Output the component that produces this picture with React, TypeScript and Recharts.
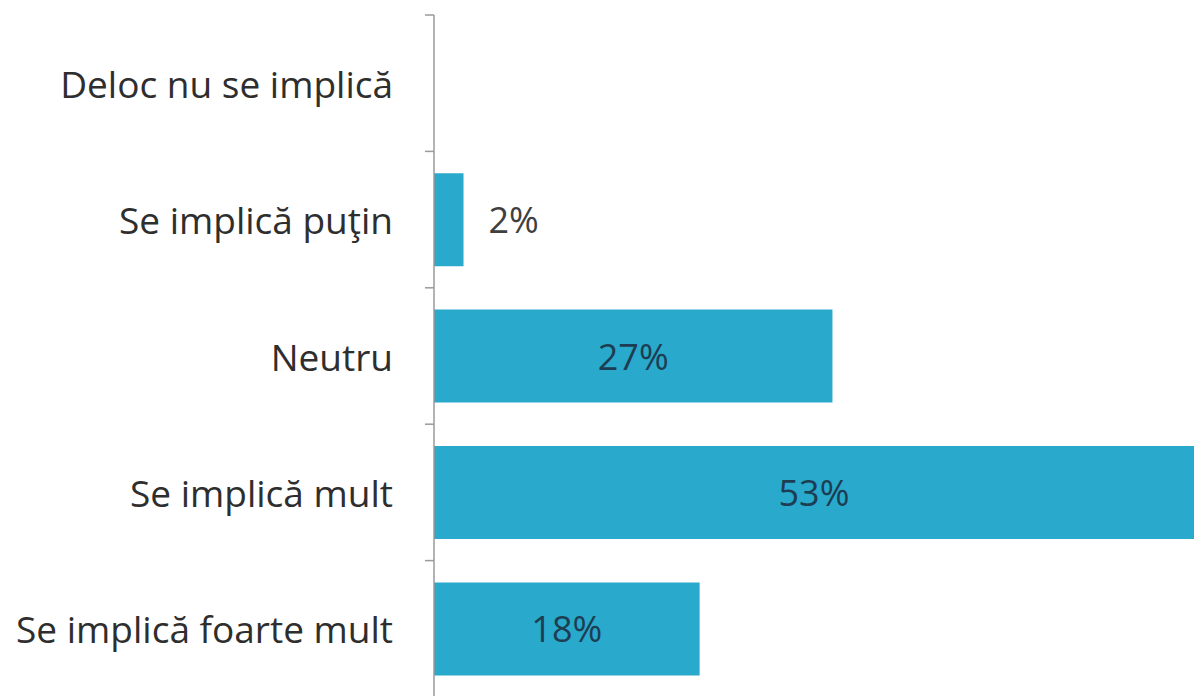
import { Bar, BarChart, LabelList, XAxis, YAxis } from 'recharts'

const categories = [
  'Deloc nu se implică',
  'Se implică puţin',
  'Neutru',
  'Se implică mult',
  'Se implică foarte mult',
]
const shares = [0, 2, 27, 53, 18]

const data = categories.map((name, i) => ({ name, value: shares[i] }))

const W = 1194
const H = 697
const M = { top: 15, right: 0, bottom: 0, left: 0 }
const AXIS_W = 434
const AXIS_X = M.left + AXIS_W
const BAND = (H - M.top - M.bottom) / categories.length
const FONT = '"Open Sans", sans-serif'

function CategoryTick(props: any) {
  const { y, payload } = props
  const top = y - BAND / 2
  return (
    <g>
      <line x1={AXIS_X - 9} x2={AXIS_X} y1={top} y2={top} stroke="#9a9a9a" strokeWidth={1.5} />
      <text
        x={AXIS_X - 41}
        y={y}
        textAnchor="end"
        dominantBaseline="central"
        fontFamily={FONT}
        fontSize={37}
        fill="#2e2e2e"
      >
        {payload.value}
      </text>
    </g>
  )
}

function ValueLabel(props: any) {
  const { x, y, width, height, value } = props
  if (!value) return null
  const right = Math.min(x + width, W - M.right)
  const inside = right - x > 120
  return (
    <text
      x={inside ? (x + right) / 2 : right + 25}
      y={y + height / 2}
      textAnchor={inside ? 'middle' : 'start'}
      dominantBaseline="central"
      fontFamily={FONT}
      fontSize={36}
      fill={inside ? '#1d3d52' : '#3f3f3f'}
    >
      {value}%
    </text>
  )
}

export default function App() {
  return (
    <div style={{ position: 'fixed', left: 0, top: 0, background: '#fff' }}>
      <BarChart
        width={W}
        height={H}
        data={data}
        layout="vertical"
        margin={M}
        barCategoryGap="16%"
      >
        <XAxis type="number" domain={[0, 51.5]} allowDataOverflow hide />
        <YAxis
          type="category"
          dataKey="name"
          width={AXIS_W}
          tickLine={false}
          axisLine={{ stroke: '#9a9a9a', strokeWidth: 1.5 }}
          tick={<CategoryTick />}
          interval={0}
        />
        <Bar dataKey="value" fill="#29a9cc" isAnimationActive={false}>
          <LabelList dataKey="value" content={<ValueLabel />} />
        </Bar>
      </BarChart>
    </div>
  )
}
